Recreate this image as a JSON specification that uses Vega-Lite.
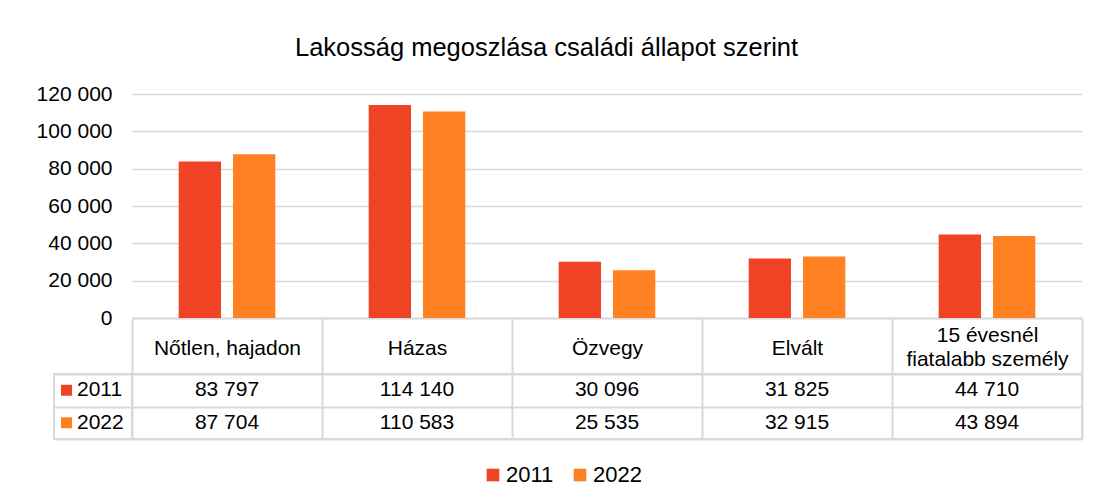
{
  "$schema": "https://vega.github.io/schema/vega-lite/v6.json",
  "background": "white",
  "autosize": {"type": "pad"},
  "padding": {"left": 36, "top": 35, "right": 15, "bottom": 20},
  "title": {"text": "Lakosság megoszlása családi állapot szerint", "fontSize": 25.5, "fontWeight": "normal", "font": "Liberation Sans", "color": "black", "anchor": "middle", "dx": -13, "offset": 22},
  "config": {
    "font": "Liberation Sans",
    "locale": {"number": {"decimal": ",", "thousands": " ", "grouping": [3], "currency": ["", " Ft"]}},
    "view": {"stroke": null},
    "legend": {"orient": "none", "legendX": 428, "legendY": 370, "direction": "horizontal", "symbolType": "square", "symbolSize": 160, "symbolStrokeWidth": 0, "symbolOpacity": 1, "labelFontSize": 22, "labelColor": "black", "labelFont": "Liberation Sans", "columnPadding": 15, "labelOffset": 2}
  },
  "datasets": {
    "d": [
      {"kat": "Nőtlen, hajadon", "ev": "2011", "ertek": 83797},
      {"kat": "Házas", "ev": "2011", "ertek": 114140},
      {"kat": "Özvegy", "ev": "2011", "ertek": 30096},
      {"kat": "Elvált", "ev": "2011", "ertek": 31825},
      {"kat": "15 évesnél fiatalabb személy", "ev": "2011", "ertek": 44710},
      {"kat": "Nőtlen, hajadon", "ev": "2022", "ertek": 87704},
      {"kat": "Házas", "ev": "2022", "ertek": 110583},
      {"kat": "Özvegy", "ev": "2022", "ertek": 25535},
      {"kat": "Elvált", "ev": "2022", "ertek": 32915},
      {"kat": "15 évesnél fiatalabb személy", "ev": "2022", "ertek": 43894}
    ],
    "evek": [{"ev": "2011"}, {"ev": "2022"}]
  },
  "columns": 2,
  "spacing": {"row": 56, "column": 0},
  "bounds": "flush",
  "align": "each",
  "resolve": {"scale": {"color": "shared"}},
  "concat": [
    {
      "width": 78,
      "height": 224,
      "data": {"values": [{"a": 1}]},
      "mark": {"type": "point", "opacity": 0},
      "encoding": {}
    },
    {
      "width": 950,
      "height": 224,
      "data": {"name": "d"},
      "mark": {"type": "bar"},
      "encoding": {
        "x": {
          "field": "kat", "type": "nominal",
          "sort": ["Nőtlen, hajadon", "Házas", "Özvegy", "Elvált", "15 évesnél fiatalabb személy"],
          "scale": {"paddingInner": 0, "paddingOuter": 0},
          "axis": {
            "title": null, "orient": "bottom", "labelAngle": 0, "labelFontSize": 21, "labelColor": "black",
            "labelBaseline": "middle",
            "labelPadding": {"condition": {"test": "datum.value == '15 évesnél fiatalabb személy'", "value": -39}, "value": -26},
            "labelLineHeight": 24, "labelLimit": 300,
            "labelExpr": "datum.value == '15 évesnél fiatalabb személy' ? ['15 évesnél', 'fiatalabb személy'] : datum.label",
            "domainColor": "#D9D9D9", "domainWidth": 2,
            "tickBand": "extent", "tickSize": 56, "tickColor": "#D9D9D9", "tickWidth": 2
          }
        },
        "xOffset": {"field": "ev", "type": "nominal", "scale": {"paddingInner": 0.22, "paddingOuter": 0.86}},
        "y": {
          "field": "ertek", "type": "quantitative",
          "scale": {"domain": [0, 120000], "nice": false},
          "axis": {
            "title": null, "values": [0, 20000, 40000, 60000, 80000, 100000, 120000], "format": ",d",
            "labelFontSize": 21, "labelColor": "black", "domain": false, "ticks": false, "labelPadding": 20,
            "gridColor": "#D9D9D9", "gridWidth": 1.5
          }
        },
        "color": {
          "field": "ev", "type": "nominal", "title": null,
          "scale": {"domain": ["2011", "2022"], "range": ["#F04325", "#FF8122"]}
        }
      }
    },
    {
      "width": 78,
      "height": 65,
      "data": {"name": "evek"},
      "view": {"stroke": "#D9D9D9", "strokeWidth": 2},
      "encoding": {
        "y": {
          "field": "ev", "type": "nominal",
          "scale": {"paddingInner": 0, "paddingOuter": 0},
          "axis": {"title": null, "labels": false, "ticks": false, "domain": false, "grid": true, "tickBand": "extent", "gridColor": "#D9D9D9", "gridWidth": 2}
        }
      },
      "layer": [
        {
          "mark": {"type": "point", "shape": "square", "filled": true, "size": 121, "opacity": 1, "xOffset": -26.5},
          "encoding": {"color": {"field": "ev", "type": "nominal", "title": null}}
        },
        {
          "mark": {"type": "text", "fontSize": 21, "align": "left", "xOffset": -16, "color": "black"},
          "encoding": {"text": {"field": "ev"}}
        }
      ]
    },
    {
      "width": 950,
      "height": 65,
      "data": {"name": "d"},
      "view": {"stroke": "#D9D9D9", "strokeWidth": 2},
      "mark": {"type": "text", "fontSize": 21, "color": "black"},
      "encoding": {
        "x": {
          "field": "kat", "type": "nominal",
          "sort": ["Nőtlen, hajadon", "Házas", "Özvegy", "Elvált", "15 évesnél fiatalabb személy"],
          "scale": {"paddingInner": 0, "paddingOuter": 0},
          "axis": {"title": null, "labels": false, "ticks": false, "domain": false, "grid": true, "tickBand": "extent", "gridColor": "#D9D9D9", "gridWidth": 2}
        },
        "y": {
          "field": "ev", "type": "nominal",
          "scale": {"paddingInner": 0, "paddingOuter": 0},
          "axis": {"title": null, "labels": false, "ticks": false, "domain": false, "grid": true, "tickBand": "extent", "gridColor": "#D9D9D9", "gridWidth": 2}
        },
        "text": {"field": "ertek", "type": "quantitative", "format": ",d"}
      }
    }
  ]
}
